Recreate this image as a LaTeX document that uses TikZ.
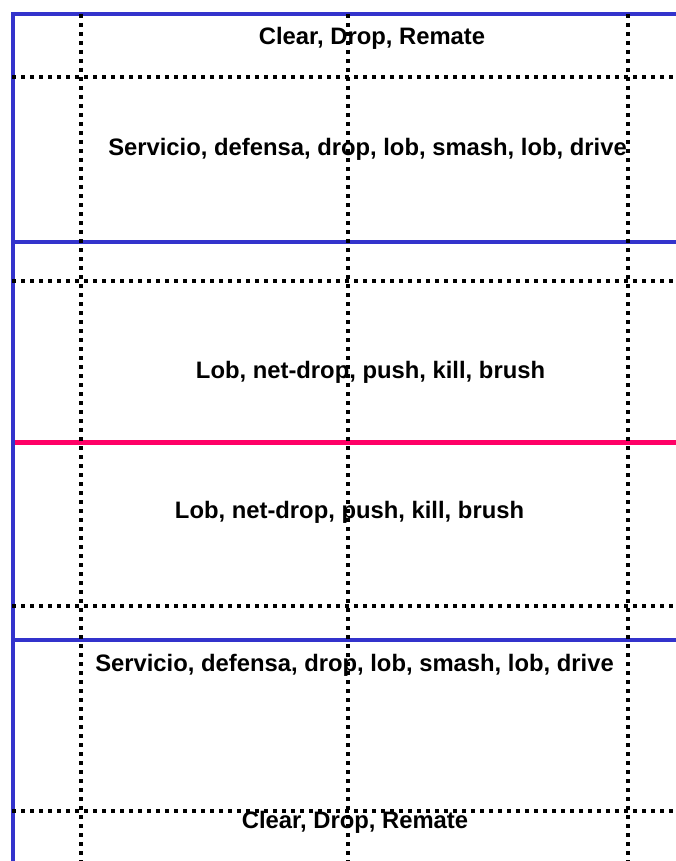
\documentclass[tikz,border=0pt]{standalone}
\usepackage{fontspec}
\setmainfont{Liberation Sans}
\definecolor{courtblue}{HTML}{3333CC}
\definecolor{netpink}{HTML}{FF0066}
\tikzset{
  lbl/.style={anchor=base, inner sep=0pt, font=\fontsize{23.8}{28}\selectfont\bfseries},
  bluel/.style={draw=courtblue, line width=4pt},
  pinkl/.style={draw=netpink, line width=4.2pt},
  dotl/.style={draw=black, line width=4pt, dash pattern=on 4pt off 5pt}
}
\begin{document}
\begin{tikzpicture}[x=1pt,y=-1pt]
\useasboundingbox (0,0) rectangle (676,861);
% labels
\node[lbl] (t1) at (372,45) {Clear, Drop, Remate};
\node[lbl] (t2) at (367.5,156) {Servicio, defensa, drop, lob, smash, lob, drive};
\node[lbl] (t3) at (370.5,378) {Lob, net-drop, push, kill, brush};
\node[lbl] (t4) at (349.5,518) {Lob, net-drop, push, kill, brush};
\node[lbl] (t5) at (354.5,671) {Servicio, defensa, drop, lob, smash, lob, drive};
\node[lbl] (t6) at (355,828) {Clear, Drop, Remate};
% solid lines
\draw[bluel] (12.5,14) -- (676,14);
\draw[bluel] (12.5,241.5) -- (676,241.5);
\draw[bluel] (12.5,640) -- (676,640);
\draw[pinkl] (12.5,442.5) -- (676,442.5);
\draw[bluel] (12.5,12) -- (12.5,861);
% dotted lines
\foreach \yy in {77.5,281.3,606,811.3}
  \draw[dotl] (12,\yy) -- (676,\yy);
\foreach \xx in {81,348,627.5}
  \draw[dotl] (\xx,14) -- (\xx,861);
\end{tikzpicture}
\end{document}
